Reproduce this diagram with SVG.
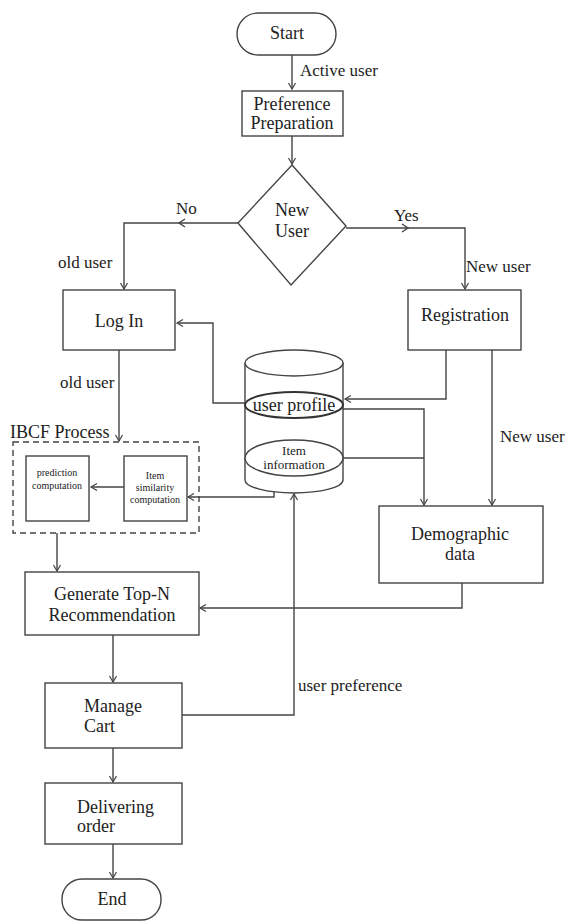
<svg xmlns="http://www.w3.org/2000/svg" width="572" height="921" viewBox="0 0 572 921" font-family="'Liberation Serif', 'Times New Roman', 'DejaVu Serif', serif">
<defs>
<marker id="ah" markerWidth="10" markerHeight="10" refX="8" refY="5" orient="auto" markerUnits="userSpaceOnUse">
<path d="M2,1.5 L8,5 L2,8.5" fill="none" stroke="#444" stroke-width="1.2"/>
</marker>
</defs>
<style>
.n{fill:#fff;stroke:#444;stroke-width:1.4}
.c{fill:none;stroke:#444;stroke-width:1.4}
text{font-family:'Liberation Serif','Times New Roman','DejaVu Serif',serif;fill:#222}
.t{font-size:18px}
.m{text-anchor:middle}
.s{font-size:17px}
</style>
<rect width="572" height="921" fill="#fff"/>
<g id="connectors">
<path class="c" d="M292,55 V89" marker-end="url(#ah)"/>
<path class="c" d="M292,136 V164" marker-end="url(#ah)"/>
<path class="c" d="M238,223 H124 V289" marker-end="url(#ah)"/>
<path class="c" d="M185,219 L179,223 L185,227"/>
<path class="c" d="M346,228 H465 V289" marker-end="url(#ah)"/>
<path class="c" d="M402,224 L408,228 L402,232"/>
<path class="c" d="M245,403 H213 V323 H177" marker-end="url(#ah)"/>
<path class="c" d="M446,350 V399 H345" marker-end="url(#ah)"/>
<path class="c" d="M492,350 V505" marker-end="url(#ah)"/>
<path class="c" d="M343,409 H424 V505" marker-end="url(#ah)"/>
<path class="c" d="M343,458 H424"/>
<path class="c" d="M274,474 V497 H188" marker-end="url(#ah)"/>
<path class="c" d="M124,487 H91" marker-end="url(#ah)"/>
<path class="c" d="M119,350 V441" marker-end="url(#ah)"/>
<path class="c" d="M57,533 V571" marker-end="url(#ah)"/>
<path class="c" d="M462,583 V608 H200" marker-end="url(#ah)"/>
<path class="c" d="M182,715 H294 V494" marker-end="url(#ah)"/>
<path class="c" d="M113,635 V682" marker-end="url(#ah)"/>
<path class="c" d="M113,748 V782" marker-end="url(#ah)"/>
<path class="c" d="M113,844 V878" marker-end="url(#ah)"/>
<text class="s" x="300" y="76">Active user</text>
<text class="s" x="176" y="214">No</text>
<text class="s" x="394" y="221">Yes</text>
<text class="s" x="58" y="268">old user</text>
<text class="s" x="466" y="272">New user</text>
<text class="s" x="60" y="388">old user</text>
<text class="s" x="500" y="442">New user</text>
<text class="s" x="298" y="691">user preference</text>
</g>
<g id="start">
<rect class="n" x="237" y="13" width="99" height="42" rx="21"/>
<text class="t m" x="287" y="39">Start</text>
</g>
<g id="preference">
<rect class="n" x="242" y="91" width="101" height="45"/>
<text class="t m" x="292" y="110">Preference</text>
<text class="t m" x="292" y="129">Preparation</text>
</g>
<g id="decision">
<path class="n" d="M292,165 L346,226 L291,285 L238,223 Z"/>
<text class="t m" x="292" y="216">New</text>
<text class="t m" x="292" y="237">User</text>
</g>
<g id="login">
<rect class="n" x="63" y="290" width="112" height="60"/>
<text class="t m" x="119" y="327">Log In</text>
</g>
<g id="registration">
<rect class="n" x="408" y="290" width="113" height="60"/>
<text class="t m" x="465" y="321">Registration</text>
</g>
<g id="database">
<path class="n" d="M245,363 V480 A49,13 0 0 0 343,480 V363"/>
<ellipse class="n" cx="294" cy="363" rx="49" ry="13"/>
<ellipse cx="294" cy="405" rx="49" ry="13" fill="#fff" stroke="#333" stroke-width="2"/>
<text class="t m" x="294" y="411">user profile</text>
<ellipse class="n" cx="294" cy="458" rx="49" ry="18"/>
<text class="m" x="294" y="455" font-size="13">Item</text>
<text class="m" x="294" y="469" font-size="13">information</text>
</g>
<g id="ibcf">
<rect x="13" y="442" width="186" height="91" fill="none" stroke="#444" stroke-width="1.4" stroke-dasharray="6,4"/>
<text class="t" x="10" y="438">IBCF Process</text>
</g>
<g id="prediction">
<rect class="n" x="26" y="456" width="63" height="65"/>
<text class="m" x="57" y="476" font-size="10">prediction</text>
<text class="m" x="57" y="489" font-size="10">computation</text>
</g>
<g id="similarity">
<rect class="n" x="124" y="456" width="63" height="65"/>
<text class="m" x="155" y="479" font-size="10">Item</text>
<text class="m" x="155" y="491" font-size="10">similarity</text>
<text class="m" x="155" y="503" font-size="10">computation</text>
</g>
<g id="demographic">
<rect class="n" x="379" y="506" width="164" height="77"/>
<text class="t m" x="460" y="540">Demographic</text>
<text class="t m" x="460" y="560">data</text>
</g>
<g id="topn">
<rect class="n" x="25" y="572" width="174" height="63"/>
<text class="t m" x="112" y="600">Generate Top-N</text>
<text class="t m" x="112" y="621">Recommendation</text>
</g>
<g id="cart">
<rect class="n" x="45" y="683" width="137" height="65"/>
<text class="t" x="84" y="712">Manage</text>
<text class="t" x="84" y="732">Cart</text>
</g>
<g id="delivering">
<rect class="n" x="45" y="783" width="137" height="61"/>
<text class="t" x="77" y="813">Delivering</text>
<text class="t" x="77" y="832">order</text>
</g>
<g id="end">
<rect class="n" x="62" y="879" width="99" height="41" rx="20"/>
<text class="t m" x="112" y="905">End</text>
</g>
</svg>
